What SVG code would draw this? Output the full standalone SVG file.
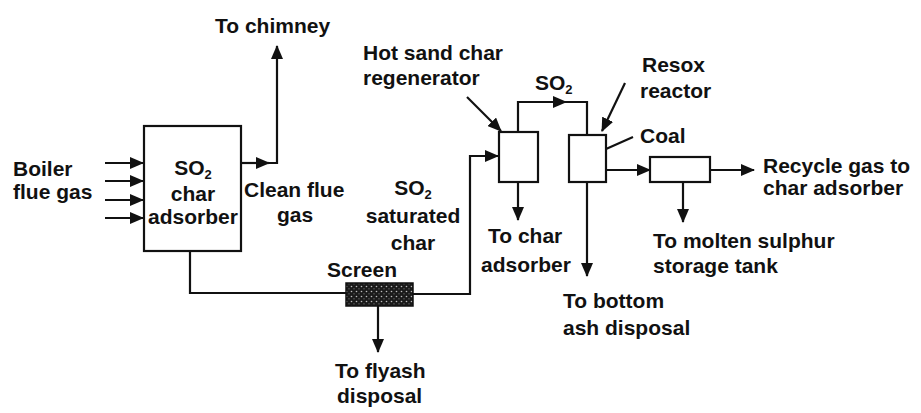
<svg xmlns="http://www.w3.org/2000/svg" width="921" height="413" viewBox="0 0 921 413">
<style>
text{font-family:"Liberation Sans",Arial,sans-serif;font-size:21px;font-weight:bold;fill:#111}
.box{fill:#fff;stroke:#111;stroke-width:2.2}
.ln{fill:none;stroke:#111;stroke-width:2.2}
.ar{fill:none;stroke:#111;stroke-width:2.2;marker-end:url(#ah)}
.sub{font-size:13px}
</style>
<defs>
<marker id="ah" markerUnits="userSpaceOnUse" markerWidth="14" markerHeight="12" viewBox="0 0 14 12" refX="13" refY="6" orient="auto">
<path d="M0,0 L14,6 L0,12 Z" fill="#111"/>
</marker>
<pattern id="scr" patternUnits="userSpaceOnUse" width="5" height="5">
<rect width="5" height="5" fill="#1a1a1a"/>
<circle cx="1.5" cy="1.5" r="0.8" fill="#bbb"/>
<circle cx="4" cy="3.8" r="0.6" fill="#888"/>
</pattern>
</defs>

<g id="connectors">
<path class="ar" d="M105,163 H143"/>
<path class="ar" d="M105,181 H143"/>
<path class="ar" d="M105,200 H143"/>
<path class="ar" d="M105,218 H143"/>
<path class="ar" d="M241,163 H269"/>
<path class="ar" d="M265,163 H277 V46"/>
<path class="ln" d="M190,251 V293 H346"/>
<path class="ar" d="M413,294 H470 V156 H498"/>
<path class="ar" d="M378,306 V352"/>
<path class="ar" d="M518,132 V102 H566"/>
<path class="ln" d="M560,102 H587 V135"/>
<path class="ar" d="M518,182 V220"/>
<path class="ar" d="M467,97 L501,131"/>
<path class="ar" d="M625,83 L602,131"/>
<path class="ar" d="M633,137 L588,157"/>
<path class="ar" d="M587,182 V276"/>
<path class="ar" d="M606,170 H650"/>
<path class="ar" d="M710,170 H754"/>
<path class="ar" d="M683,182 V222"/>
</g>

<g id="boiler-flue-gas">
<text x="13" y="176">Boiler</text>
<text x="13" y="199">flue gas</text>
</g>

<g id="so2-char-adsorber">
<rect class="box" x="144" y="126" width="97" height="125"/>
<text x="193" y="175" text-anchor="middle">SO<tspan class="sub" dy="4">2</tspan></text>
<text x="193" y="201" text-anchor="middle">char</text>
<text x="193" y="224" text-anchor="middle">adsorber</text>
</g>

<g id="to-chimney">
<text x="215" y="33">To chimney</text>
</g>

<g id="clean-flue-gas">
<text x="244" y="197">Clean flue</text>
<text x="277" y="222">gas</text>
</g>

<g id="screen">
<rect x="346" y="283" width="67" height="23" fill="url(#scr)" stroke="#111" stroke-width="1.5"/>
<text x="327" y="277">Screen</text>
</g>

<g id="to-flyash-disposal">
<text x="335" y="378">To flyash</text>
<text x="337" y="403">disposal</text>
</g>

<g id="so2-saturated-char">
<text x="413" y="195" text-anchor="middle">SO<tspan class="sub" dy="4">2</tspan></text>
<text x="413" y="223" text-anchor="middle">saturated</text>
<text x="413" y="250" text-anchor="middle">char</text>
</g>

<g id="hot-sand-char-regenerator">
<rect class="box" x="499" y="132" width="39" height="50"/>
<text x="363" y="60">Hot sand char</text>
<text x="363" y="85">regenerator</text>
</g>

<g id="so2-label">
<text x="535" y="90">SO<tspan class="sub" dy="4">2</tspan></text>
</g>

<g id="to-char-adsorber">
<text x="488" y="243">To char</text>
<text x="481" y="272">adsorber</text>
</g>

<g id="resox-reactor">
<rect class="box" x="569" y="135" width="37" height="47"/>
<text x="642" y="72">Resox</text>
<text x="640" y="98">reactor</text>
</g>

<g id="coal">
<text x="640" y="143">Coal</text>
</g>

<g id="to-bottom-ash-disposal">
<text x="563" y="308">To bottom</text>
<text x="563" y="335">ash disposal</text>
</g>

<g id="separator">
<rect class="box" x="650" y="157" width="60" height="25"/>
</g>

<g id="recycle-gas">
<text x="763" y="173">Recycle gas to</text>
<text x="763" y="195">char adsorber</text>
</g>

<g id="to-molten-sulphur">
<text x="653" y="248">To molten sulphur</text>
<text x="653" y="273">storage tank</text>
</g>
</svg>
